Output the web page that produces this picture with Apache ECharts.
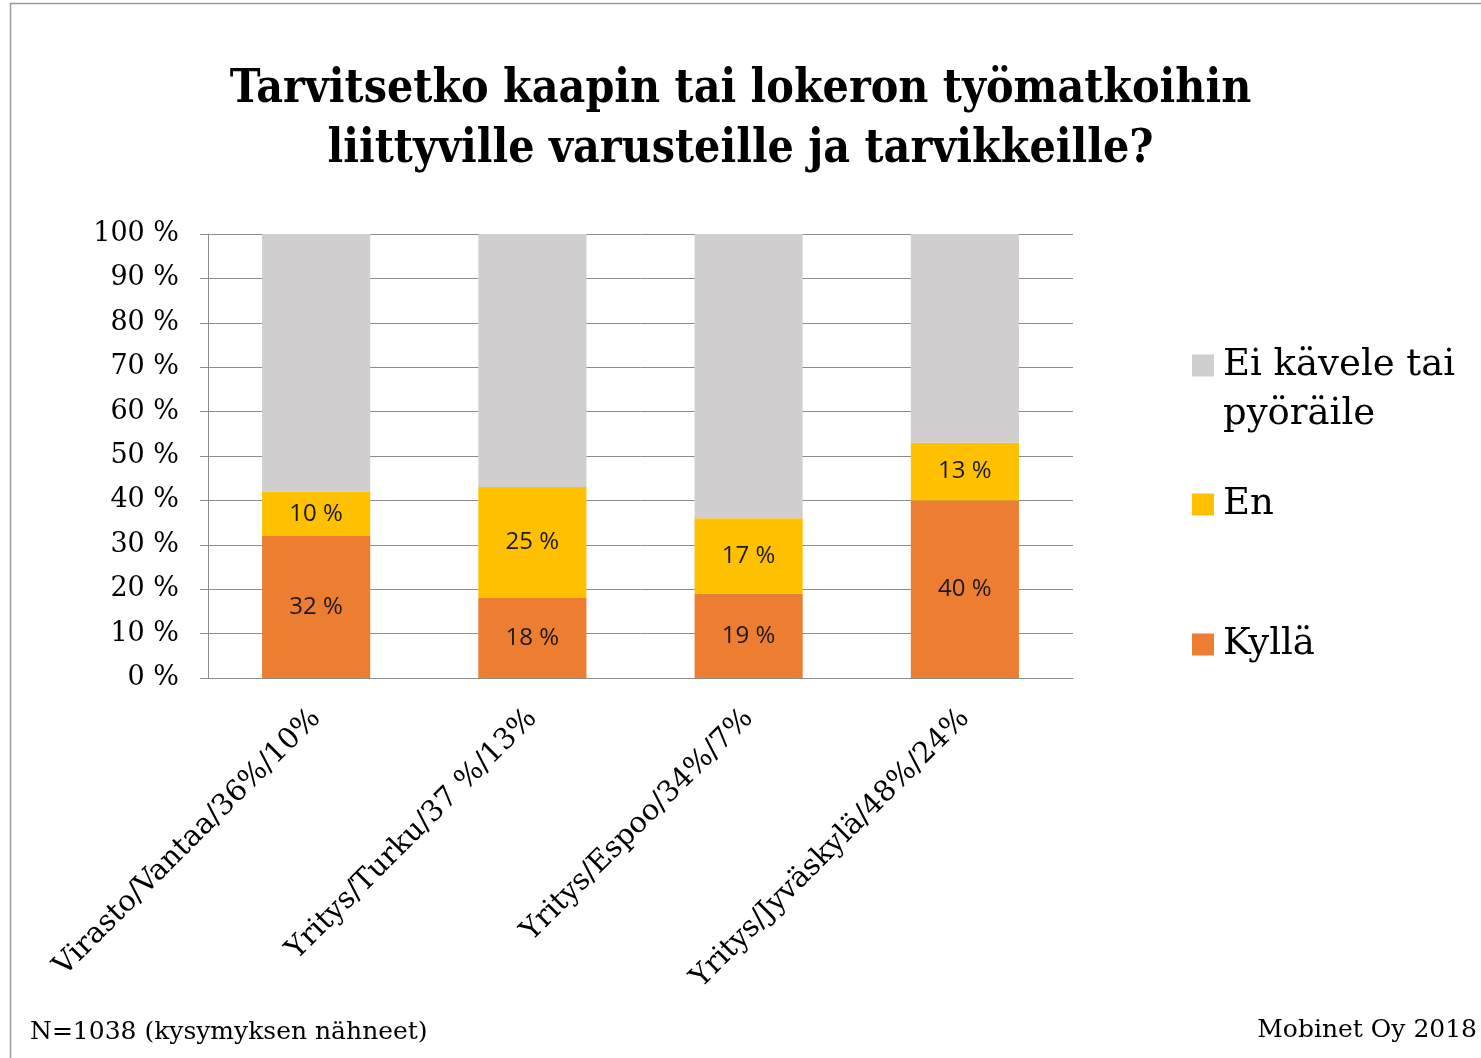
<!DOCTYPE html>
<html>
<head>
<meta charset="utf-8">
<script src="https://cdn.jsdelivr.net/npm/echarts@6/dist/echarts.min.js"></script>
<style>
  html, body { margin: 0; padding: 0; background: #fff; }
  #main { width: 1481px; height: 1058px; }
</style>
</head>
<body>
<div id="main"></div>
<script>
var categories = ['Virasto/Vantaa/36%/10%', 'Yritys/Turku/37 %/13%', 'Yritys/Espoo/34%/7%', 'Yritys/Jyväskylä/48%/24%'];
var kylla = [32, 18, 19, 40];
var en = [10, 25, 17, 13];
var eiKavele = [58, 57, 64, 47];
var yTicks = [0, 10, 20, 30, 40, 50, 60, 70, 80, 90, 100];

var serif = '"DejaVu Serif", serif';
var labelFont = { fontFamily: '"Open Sans", sans-serif', fontSize: 24, color: '#1a1a1a' };

var myChart = echarts.init(document.getElementById('main'));

function legendAt(name, text, top) {
    return {
        data: [name],
        left: 1192,
        top: top,
        padding: 0,
        icon: 'rect',
        itemWidth: 22,
        itemHeight: 22,
        itemGap: 0,
        selectedMode: false,
        formatter: function () { return text; },
        textStyle: { fontFamily: serif, fontSize: 37, lineHeight: 49, color: '#000', padding: [0, 0, 0, 4] }
    };
}

var option = {
    backgroundColor: '#fff',
    animation: false,
    title: {
        text: 'Tarvitsetko kaapin tai lokeron työmatkoihin\nliittyville varusteille ja tarvikkeille?',
        left: 'center',
        top: 55,
        textStyle: {
            fontFamily: '"DejaVu Serif Condensed", "DejaVu Serif", serif',
            fontWeight: 'bold',
            fontSize: 46,
            lineHeight: 60,
            color: '#000'
        }
    },
    legend: [
        legendAt('Ei kävele tai pyöräile', '\nEi kävele tai\npyöräile', 292),
        legendAt('En', 'En', 480),
        legendAt('Kyllä', 'Kyllä', 620)
    ],
    grid: { left: 208, right: 408, top: 234, bottom: 380 },
    xAxis: {
        type: 'category',
        data: categories,
        axisLine: { lineStyle: { color: '#8c8c8c', width: 1 } },
        axisTick: { length: 10, lineStyle: { color: '#8c8c8c' } },
        axisLabel: {
            rotate: 45,
            margin: 36,
            fontFamily: serif,
            fontSize: 29,
            color: '#000',
            interval: 0
        }
    },
    yAxis: {
        type: 'value',
        min: 0,
        max: 100,
        interval: 10,
        axisLine: { show: true, lineStyle: { color: '#8c8c8c', width: 1 } },
        axisTick: { show: true, length: 8, lineStyle: { color: '#8c8c8c' } },
        splitLine: { lineStyle: { color: '#8c8c8c', width: 1 } },
        axisLabel: {
            margin: 29,
            fontFamily: serif,
            fontSize: 27,
            color: '#000',
            formatter: function (v) { return yTicks.indexOf(v) >= 0 ? v + ' %' : ''; }
        }
    },
    series: [
        {
            name: 'Kyllä', type: 'bar', stack: 'total', data: kylla, barWidth: '50%',
            itemStyle: { color: '#ED7D31' },
            label: Object.assign({ show: true, position: 'inside', formatter: '{c} %' }, labelFont)
        },
        {
            name: 'En', type: 'bar', stack: 'total', data: en,
            itemStyle: { color: '#FFC000' },
            label: Object.assign({ show: true, position: 'inside', formatter: '{c} %' }, labelFont)
        },
        {
            name: 'Ei kävele tai pyöräile', type: 'bar', stack: 'total', data: eiKavele,
            itemStyle: { color: '#D0CECF' }
        }
    ],
    graphic: [
        {
            type: 'rect',
            shape: { x: 10.5, y: 3.5, width: 1600, height: 1200 },
            style: { fill: 'none', stroke: '#9a9a9a', lineWidth: 1.5 },
            silent: true
        },
        {
            type: 'text', left: 30, top: 1020,
            style: { text: 'N=1038 (kysymyksen nähneet)', fontFamily: serif, fontSize: 25, fill: '#000' }
        },
        {
            type: 'text', right: 4, top: 1018,
            style: { text: 'Mobinet Oy 2018', fontFamily: serif, fontSize: 25, fill: '#000' }
        }
    ]
};

option && myChart.setOption(option);
</script>
</body>
</html>
